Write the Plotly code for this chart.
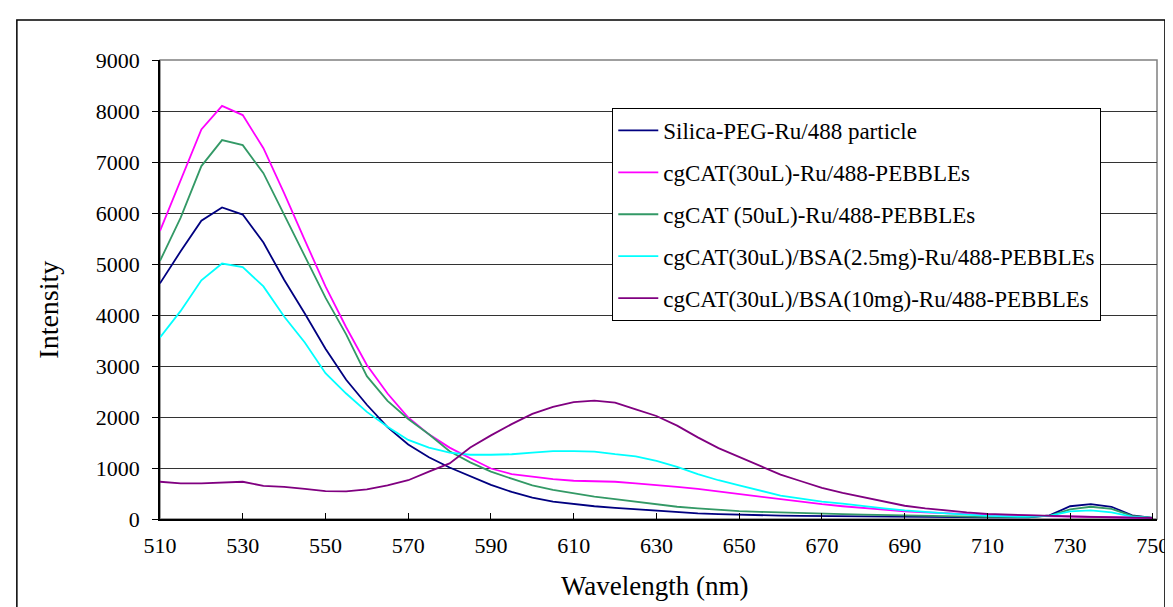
import plotly.graph_objects as go

wavelength = list(range(510, 751, 5))

silica_peg = [4620, 5250, 5850, 6110, 5970, 5420, 4690, 4030, 3340, 2730,
              2240, 1800, 1460, 1210, 1010, 840, 670, 530, 420, 340,
              290, 250, 220, 190, 160, 130, 110, 95, 82, 72,
              65, 60, 55, 50, 50, 45, 40, 40, 35, 35,
              30, 30, 30, 70, 250, 290, 240, 70, 20]

cgcat30 = [5650, 6630, 7640, 8100, 7920, 7270, 6390, 5470, 4560, 3760,
           3020, 2460, 1990, 1660, 1400, 1190, 990, 880, 830, 780,
           750, 740, 730, 700, 670, 630, 590, 540, 495, 440,
           385, 335, 290, 250, 215, 180, 150, 128, 110, 95,
           82, 72, 65, 60, 60, 55, 35, 30, 20]

cgcat50 = [5060, 5910, 6920, 7430, 7330, 6780, 5970, 5160, 4340, 3620,
           2800, 2316, 1960, 1663, 1330, 1110, 930, 790, 660, 570,
           500, 440, 390, 340, 290, 240, 210, 175, 155, 140,
           125, 115, 105, 95, 85, 75, 65, 55, 50, 45,
           40, 40, 40, 60, 190, 240, 200, 60, 20]

bsa25 = [3560, 4080, 4680, 5010, 4940, 4560, 3970, 3460, 2860, 2460,
         2100, 1810, 1550, 1400, 1300, 1260, 1260, 1270, 1300, 1330,
         1330, 1320, 1270, 1230, 1140, 1020, 880, 760, 660, 560,
         460, 400, 340, 300, 250, 210, 170, 135, 110, 85,
         60, 50, 45, 60, 150, 170, 130, 45, 20]

bsa10 = [730, 700, 700, 720, 730, 650, 630, 590, 545, 540,
         580, 660, 760, 930, 1090, 1400, 1640, 1860, 2060, 2200,
         2290, 2320, 2280, 2150, 2020, 1830, 1600, 1390, 1220, 1040,
         870, 740, 610, 510, 430, 340, 260, 210, 165, 130,
         100, 85, 75, 60, 50, 40, 30, 20, 20]

series_names = ["Silica-PEG-Ru/488 particle",
                "cgCAT(30uL)-Ru/488-PEBBLEs",
                "cgCAT (50uL)-Ru/488-PEBBLEs",
                "cgCAT(30uL)/BSA(2.5mg)-Ru/488-PEBBLEs",
                "cgCAT(30uL)/BSA(10mg)-Ru/488-PEBBLEs"]
series_values = [silica_peg, cgcat30, cgcat50, bsa25, bsa10]
series_colors = ["#000080", "#FF00FF", "#339966", "#00FFFF", "#800080"]

x_ticks = list(range(510, 751, 20))
y_ticks = list(range(0, 9001, 1000))

FONT = "Liberation Serif"

fig = go.Figure()
for i, (name, vals, col) in enumerate(zip(series_names, series_values, series_colors)):
    fig.add_trace(go.Scatter(x=wavelength, y=vals, mode="lines", name=name,
                             line=dict(color=col, width=1.8),
                             legendgroup=f"g{i}"))

W, H = 1173, 607
L, R, T, B = 152, 18, 52, 96
pw, ph = W - L - R, H - T - B

def px_x(p):
    return (p - L) / pw

def px_y(p):
    return (H - B - p) / ph

fig.update_layout(
    width=W, height=H,
    margin=dict(l=L, r=R, t=T, b=B),
    paper_bgcolor="white", plot_bgcolor="white",
    font=dict(family=FONT, size=22, color="black"),
    showlegend=True,
    legend=dict(x=px_x(607), y=px_y(100), xanchor="left", yanchor="top",
                bgcolor="white", bordercolor="black", borderwidth=1,
                font=dict(family=FONT, size=23, color="black"),
                tracegroupgap=9, itemwidth=40),
    xaxis=dict(range=[510, 751], tickvals=x_ticks, ticktext=[str(v) for v in x_ticks],
               showgrid=False, zeroline=False, showline=True, linecolor="black",
               linewidth=1.5, ticks="inside", ticklen=6, tickcolor="black",
               ticklabelstandoff=6, tickfont=dict(family=FONT, size=22)),
    yaxis=dict(range=[0, 9000], tickvals=y_ticks, ticktext=[str(v) for v in y_ticks],
               showgrid=True, gridcolor="#333333", gridwidth=1, zeroline=False,
               showline=True, linecolor="black", linewidth=1.5,
               ticks="outside", ticklen=6, tickcolor="black",
               ticklabelstandoff=8, tickfont=dict(family=FONT, size=22)),
    shapes=[
        dict(type="rect", xref="paper", yref="paper", x0=0, x1=1, y0=0, y1=1,
             line=dict(color="#808080", width=1.5), layer="below"),
        dict(type="rect", xref="paper", yref="paper",
             x0=px_x(8), x1=px_x(1163), y0=px_y(640), y1=px_y(12),
             line=dict(color="black", width=1.5)),
    ],
    annotations=[
        dict(text="Wavelength (nm)", xref="paper", yref="paper",
             x=px_x(650), y=px_y(578), xanchor="center", yanchor="middle",
             showarrow=False, font=dict(family=FONT, size=27, color="black")),
        dict(text="Intensity", xref="paper", yref="paper",
             x=px_x(39), y=px_y(302), xanchor="center", yanchor="middle",
             showarrow=False, textangle=-90,
             font=dict(family=FONT, size=28, color="black")),
    ],
)

fig.write_html("out.html")
